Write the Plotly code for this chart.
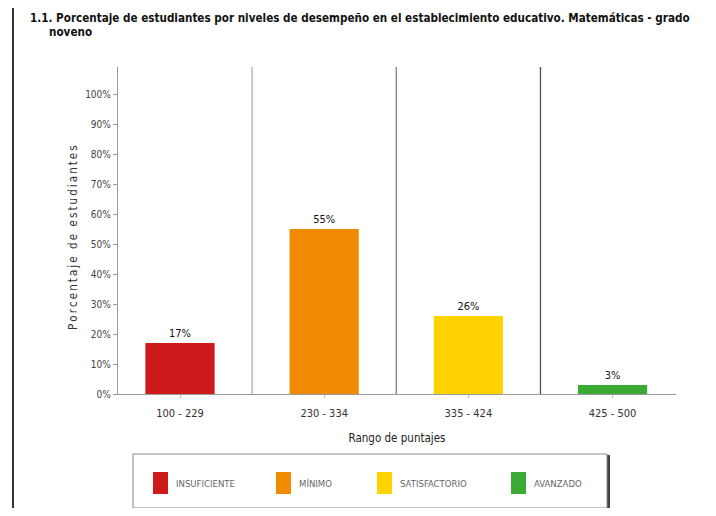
import plotly.graph_objects as go

# ---- data ----
ranges = ["100 - 229", "230 - 334", "335 - 424", "425 - 500"]
levels = ["INSUFICIENTE", "MÍNIMO", "SATISFACTORIO", "AVANZADO"]
percent = [17, 55, 26, 3]
colors = ["#CE1A1B", "#F08A00", "#FFD200", "#3BAA35"]
yticks = list(range(0, 101, 10))
ytick_labels = [f"{v}%" for v in yticks]

OFF = 8  # page body margin
W, H = 700, 500
# target plot area in screenshot pixels
PL, PR, PT, PB = 118, 676, 67, 394
L, T = PL - OFF, PT - OFF
R, B = W - (PR - OFF), H - (PB - OFF)
PW, PH = PR - PL, PB - PT

def px(x):
    return (x - PL) / PW

def py(y):
    return (PB - y) / PH

FONT = "Liberation Sans Narrow, DejaVu Sans Condensed, Arial Narrow, sans-serif"
xs = list(range(len(ranges)))

fig = go.Figure()
fig.add_trace(go.Bar(
    x=xs, y=percent, width=0.48,
    marker=dict(color=colors, line=dict(width=0)),
    text=[f"{v}%" for v in percent], textposition="outside",
    textfont=dict(family=FONT, size=11, color="#111"),
    cliponaxis=False, showlegend=False,
))

shapes = []
sep_colors = ["#B0B0B0", "#808080", "#505050"]
for i in range(len(ranges) - 1):
    shapes.append(dict(type="line", xref="x", yref="paper", x0=i + 0.5, x1=i + 0.5,
                       y0=0, y1=1, line=dict(color=sep_colors[i], width=1.3), layer="below"))
# page border
shapes.append(dict(type="line", xref="paper", yref="paper", x0=px(13), x1=px(13),
                   y0=py(0), y1=py(520), line=dict(color="#333", width=2)))
# legend box with shadow
shapes.append(dict(type="rect", xref="paper", yref="paper", x0=px(135), x1=px(609),
                   y0=py(456), y1=py(510), line=dict(color="#444", width=2), fillcolor="#444"))
shapes.append(dict(type="rect", xref="paper", yref="paper", x0=px(133), x1=px(607),
                   y0=py(454), y1=py(508), line=dict(color="#888", width=1), fillcolor="white"))

annotations = []
sq_x = [153, 276, 377, 511]
for i, (lab, col) in enumerate(zip(levels, colors)):
    shapes.append(dict(type="rect", xref="paper", yref="paper", x0=px(sq_x[i]), x1=px(sq_x[i] + 15),
                       y0=py(472), y1=py(494), line=dict(width=0), fillcolor=col))
    annotations.append(dict(text=lab, xref="paper", yref="paper", x=px(sq_x[i] + 21), y=py(483),
                            xanchor="left", yanchor="middle", showarrow=False,
                            font=dict(family=FONT, size=9.5, color="#666")))

# title
annotations.append(dict(text="<b>1.1. Porcentaje de estudiantes por niveles de desempeño en el establecimiento educativo. Matemáticas - grado</b>",
                        xref="paper", yref="paper", x=px(28), y=py(18), xanchor="left", yanchor="middle",
                        showarrow=False, font=dict(family=FONT, size=11.6, color="#111")))
annotations.append(dict(text="<b>noveno</b>", xref="paper", yref="paper", x=px(47), y=py(32),
                        xanchor="left", yanchor="middle", showarrow=False,
                        font=dict(family=FONT, size=11.6, color="#111")))
# y title (letter-spaced)
ytitle = "\u2009".join("Porcentaje de estudiantes")
annotations.append(dict(text=ytitle, xref="paper", yref="paper", x=px(73), y=py(238),
                        xanchor="center", yanchor="middle", textangle=-90, showarrow=False,
                        font=dict(family=FONT, size=11.5, color="#333")))

fig.update_layout(
    width=W, height=H, margin=dict(l=L, r=R, t=T, b=B),
    paper_bgcolor="white", plot_bgcolor="white",
    font=dict(family=FONT, size=11, color="#333"),
    shapes=shapes, annotations=annotations, showlegend=False,
    xaxis=dict(range=[-0.43, 3.44], tickmode="array", tickvals=xs, ticktext=ranges,
               showgrid=False, zeroline=False, showline=True, linecolor="#999", linewidth=1.3,
               ticks="outside", ticklen=3, tickcolor="#BBB", ticklabelstandoff=6,
               tickfont=dict(family=FONT, size=11, color="#333"),
               title=dict(text="Rango de puntajes", font=dict(family=FONT, size=11.5, color="#222"), standoff=14)),
    yaxis=dict(range=[0, 109], tickmode="array", tickvals=yticks, ticktext=ytick_labels,
               showgrid=False, zeroline=False, showline=True, linecolor="#999", linewidth=1.3,
               ticks="outside", ticklen=4, tickcolor="#999",
               tickfont=dict(family=FONT, size=10, color="#444")),
)

fig.write_html("out.html")
